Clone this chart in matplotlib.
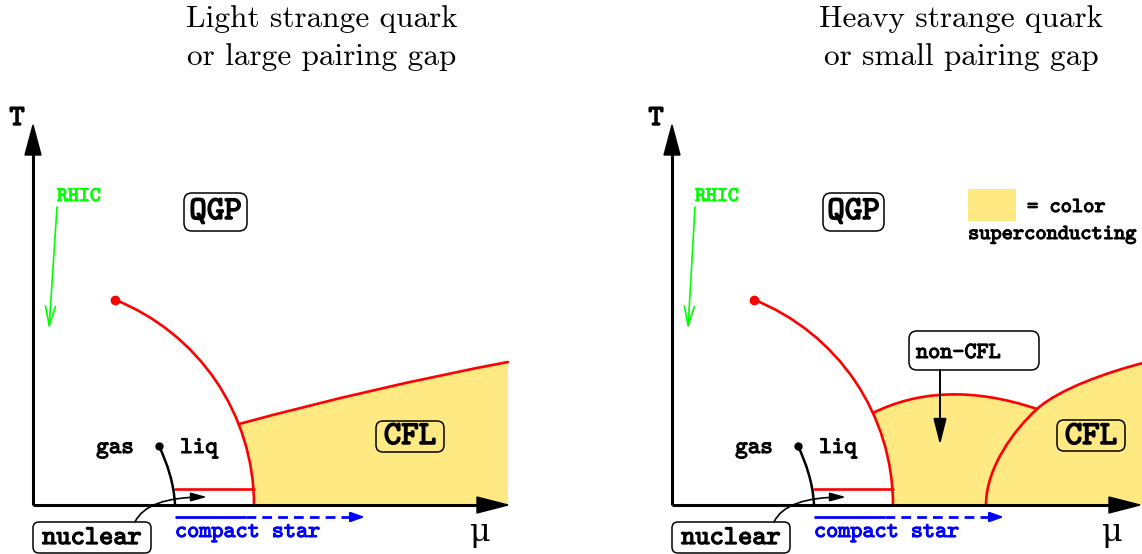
import matplotlib
matplotlib.use('Agg')
import matplotlib.pyplot as plt
import matplotlib.patheffects as pe
from matplotlib.path import Path
from matplotlib.patches import PathPatch, FancyBboxPatch, FancyArrowPatch, Polygon, Rectangle
from matplotlib.transforms import Affine2D

# ─── Diagram data (pixel-like units, origin where the T and mu axes meet) ────
TITLES = [["Light strange quark", "or large pairing gap"],
          ["Heavy strange quark", "or small pairing gap"]]

AXIS_X_LEN = [475, 468]
AXIS_Y_LEN = 380

ARC_RADIUS = 221                     # hadron / quark matter boundary
CRIT_ANGLE = 68.3                    # critical end point on that arc (deg)
CFL_JOIN_ANGLE = 21.4                # left: CFL line leaves the arc here
NONCFL_JOIN_ANGLE = 24.6             # right: non-CFL top leaves the arc here

# left panel: CFL / QGP boundary
CFL_LINE_LEFT = [(206, 81), (295, 105), (385, 126), (475, 143)]

# right panel: non-CFL dome and CFL boundary (two pieces)
NONCFL_TOP = [(201, 92), (245, 114), (300, 118), (365, 96)]
CFL_EDGE_LOW = [(314, 0), (314, 38), (343, 76), (365, 96)]
CFL_EDGE_HIGH = [(365, 96), (387, 116), (436, 133), (471, 142)]

# nuclear liquid-gas line and first order nuclear transition
LG_LINE = [(126, 59), (134, 42), (141, 22), (142, 0)]
NUCLEAR_STEP = [(142, 16), (221, 16)]

RHIC_ARROW = [[(24, 298), (16, 176)], [(23, 298), (16, 176)]]
NUCLEAR_ARROW = [(102, -17), (174, 8)]
STAR_SOLID = [142, 213]
STAR_DASHED = [213, 332]
STAR_Y = -12

# boxes: (x0, y0, width, height)
QGP_BOX = [(151, 274, 63, 38), (151, 274, 61, 38)]
CFL_BOX = [(343, 53, 68, 31), (385, 54, 68, 31)]
NUCLEAR_BOX = (0, -48, 118, 31)
NONCFL_BOX = (237, 135, 130, 39)
NONCFL_ARROW = [(268, 135), (268, 60)]
LEGEND_SWATCH = (296, 284, 48, 32)

YELLOW = '#ffe982'
RED = '#ff0000'
GREEN = '#00ff00'
BLUE = '#0000ff'


def mono(ax, x, y, s, size, color='black', ha='center', stroke=0.75, **kw):
    # typewriter face, thickened to look like a bold Courier
    return ax.text(x, y, s, family='cmtt10', fontsize=size, color=color,
                   ha=ha, va='baseline', zorder=6,
                   path_effects=[pe.withStroke(linewidth=stroke, foreground=color)],
                   **kw)


def bezier(pts):
    return Path(pts, [Path.MOVETO] + [Path.CURVE4] * 3)


def arc(a1, a2):
    return Path.arc(a1, a2).transformed(Affine2D().scale(ARC_RADIUS))


def reverse(p):
    return Path(p.vertices[::-1], p.codes)


def chain(paths):
    verts, codes = [], []
    for i, p in enumerate(paths):
        c = list(p.codes) if p.codes is not None else \
            [Path.MOVETO] + [Path.LINETO] * (len(p.vertices) - 1)
        if i > 0:
            c[0] = Path.LINETO
        verts.extend(p.vertices.tolist())
        codes.extend(c)
    verts.append(verts[0])
    codes.append(Path.CLOSEPOLY)
    return Path(verts, codes)


def red_curve(ax, path):
    ax.add_patch(PathPatch(path, fill=False, edgecolor=RED, lw=1.9, zorder=3,
                           capstyle='round'))


def rbox(ax, box, r=7):
    x0, y0, w, h = box
    ax.add_patch(FancyBboxPatch((x0, y0), w, h,
                                boxstyle=f'round,pad=0,rounding_size={r}',
                                fc='none', ec='black', lw=1.1, zorder=5))


def common(ax, k):
    # titles
    ax.text(289, 478, TITLES[k][0], family='cmr10', fontsize=22.5,
            ha='center', va='baseline')
    ax.text(289, 440, TITLES[k][1], family='cmr10', fontsize=22.5,
            ha='center', va='baseline')

    # axes with arrow heads
    xl = AXIS_X_LEN[k]
    ax.plot([0, xl - 28], [0, 0], color='black', lw=2.2, zorder=4,
            solid_capstyle='butt')
    ax.plot([0, 0], [0, AXIS_Y_LEN - 28], color='black', lw=2.2, zorder=4,
            solid_capstyle='butt')
    ax.add_patch(Polygon([(xl - 31, -8), (xl, 0), (xl - 31, 8)],
                         color='black', zorder=4))
    ax.add_patch(Polygon([(-8, AXIS_Y_LEN - 30), (0, AXIS_Y_LEN),
                          (8, AXIS_Y_LEN - 30)], color='black', zorder=4))
    mono(ax, -16, 380, 'T', 21, stroke=1.0)
    ax.text(xl - 28, -36, 'μ', family='DejaVu Serif', fontsize=23,
            ha='center', va='baseline')

    # RHIC
    (x0, y0), (x1, y1) = RHIC_ARROW[k]
    mono(ax, x0 + 22, 304, 'RHIC', 15, color=GREEN, stroke=0.7)
    ax.add_patch(FancyArrowPatch((x0, y0), (x1, y1),
                                 arrowstyle='->,head_length=14,head_width=3.6',
                                 color=GREEN, lw=1.2, shrinkA=0, shrinkB=0,
                                 zorder=4))

    # QGP label
    bx = QGP_BOX[k]
    rbox(ax, bx, 8)
    mono(ax, bx[0] + bx[2] / 2, 286, 'QGP', 24, stroke=1.05)

    # critical point and deconfinement arc
    red_curve(ax, arc(0, CRIT_ANGLE))
    cp = arc(CRIT_ANGLE, CRIT_ANGLE).vertices[0]
    ax.plot(*cp, 'o', color=RED, ms=6, zorder=4)
    red_curve(ax, Path(NUCLEAR_STEP))

    # liquid-gas
    ax.add_patch(PathPatch(bezier(LG_LINE), fill=False, ec='black', lw=1.8,
                           zorder=3))
    ax.plot(*LG_LINE[0], 'o', color='black', ms=5, zorder=4)
    mono(ax, 82, 52, 'gas', 17.2)
    mono(ax, 166, 52, 'liq', 17.2)

    # nuclear
    rbox(ax, NUCLEAR_BOX, 6)
    mono(ax, NUCLEAR_BOX[0] + NUCLEAR_BOX[2] / 2, -39, 'nuclear', 19.5, stroke=0.9)
    ax.add_patch(FancyArrowPatch(NUCLEAR_ARROW[0], NUCLEAR_ARROW[1],
                                 connectionstyle='angle3,angleA=65,angleB=0',
                                 arrowstyle='-|>,head_length=9.5,head_width=2.6',
                                 color='black', lw=1.2, shrinkA=0, shrinkB=0,
                                 zorder=4))

    # compact star
    ax.plot(STAR_SOLID, [STAR_Y, STAR_Y], color=BLUE, lw=2, zorder=4,
            solid_capstyle='butt')
    ax.plot([STAR_DASHED[0], STAR_DASHED[1] - 12], [STAR_Y, STAR_Y],
            color=BLUE, lw=2, dashes=(3.5, 2.2), zorder=4)
    ax.add_patch(FancyArrowPatch((STAR_DASHED[1] - 13, STAR_Y),
                                 (STAR_DASHED[1], STAR_Y),
                                 arrowstyle='-|>,head_length=8.5,head_width=3',
                                 color=BLUE, lw=1.5, shrinkA=0, shrinkB=0,
                                 zorder=4))
    mono(ax, STAR_SOLID[0], -32, 'compact star', 16.6, color=BLUE, ha='left')

    # CFL label
    bx = CFL_BOX[k]
    rbox(ax, bx, 7)
    mono(ax, bx[0] + bx[2] / 2, 61, 'CFL', 24, stroke=1.05)


fig = plt.figure(figsize=(11.42, 5.54), dpi=100)
ax_l = fig.add_axes([0, 0, 639 / 1142, 1])
ax_r = fig.add_axes([639 / 1142, 0, 503 / 1142, 1])
ax_l.set_xlim(-33, 606)
ax_r.set_xlim(-33, 470)
for ax in (ax_l, ax_r):
    ax.set_ylim(-49, 505)
    ax.axis('off')

# ─── Left: light strange quark ───────────────────────────────────────────────
cfl_left = bezier(CFL_LINE_LEFT)
ax_l.add_patch(PathPatch(chain([cfl_left,
                                Path([CFL_LINE_LEFT[-1], (475, 0), (ARC_RADIUS, 0)]),
                                arc(0, CFL_JOIN_ANGLE)]),
                         fc=YELLOW, ec='none', zorder=1))
red_curve(ax_l, cfl_left)
common(ax_l, 0)

# ─── Right: heavy strange quark ──────────────────────────────────────────────
low = bezier(CFL_EDGE_LOW)
high = bezier(CFL_EDGE_HIGH)
top = bezier(NONCFL_TOP)
ax_r.add_patch(PathPatch(chain([top, reverse(low),
                                Path([CFL_EDGE_LOW[0], (ARC_RADIUS, 0)]),
                                arc(0, NONCFL_JOIN_ANGLE)]),
                         fc=YELLOW, ec='none', zorder=1))
ax_r.add_patch(PathPatch(chain([low, high,
                                Path([CFL_EDGE_HIGH[-1], (CFL_EDGE_HIGH[-1][0], 0)])]),
                         fc=YELLOW, ec='none', zorder=1))
for p in (low, high, top):
    red_curve(ax_r, p)
common(ax_r, 1)

rbox(ax_r, NONCFL_BOX, 8)
mono(ax_r, NONCFL_BOX[0] + 7, 147, 'non-CFL', 16.6, ha='left')
ax_r.add_patch(FancyArrowPatch(NONCFL_ARROW[0], NONCFL_ARROW[1],
                               arrowstyle='-|>,head_length=16,head_width=4',
                               color='black', lw=1.4, shrinkA=0, shrinkB=0,
                               zorder=4))

sx, sy, sw, sh = LEGEND_SWATCH
ax_r.add_patch(Rectangle((sx, sy), sw, sh, fc=YELLOW, ec='none'))
mono(ax_r, sx + sw + 11, 293, '= color', 15.4, ha='left')
mono(ax_r, sx, 266, 'superconducting', 15.4, ha='left')

fig.savefig('out.png', dpi=100)
